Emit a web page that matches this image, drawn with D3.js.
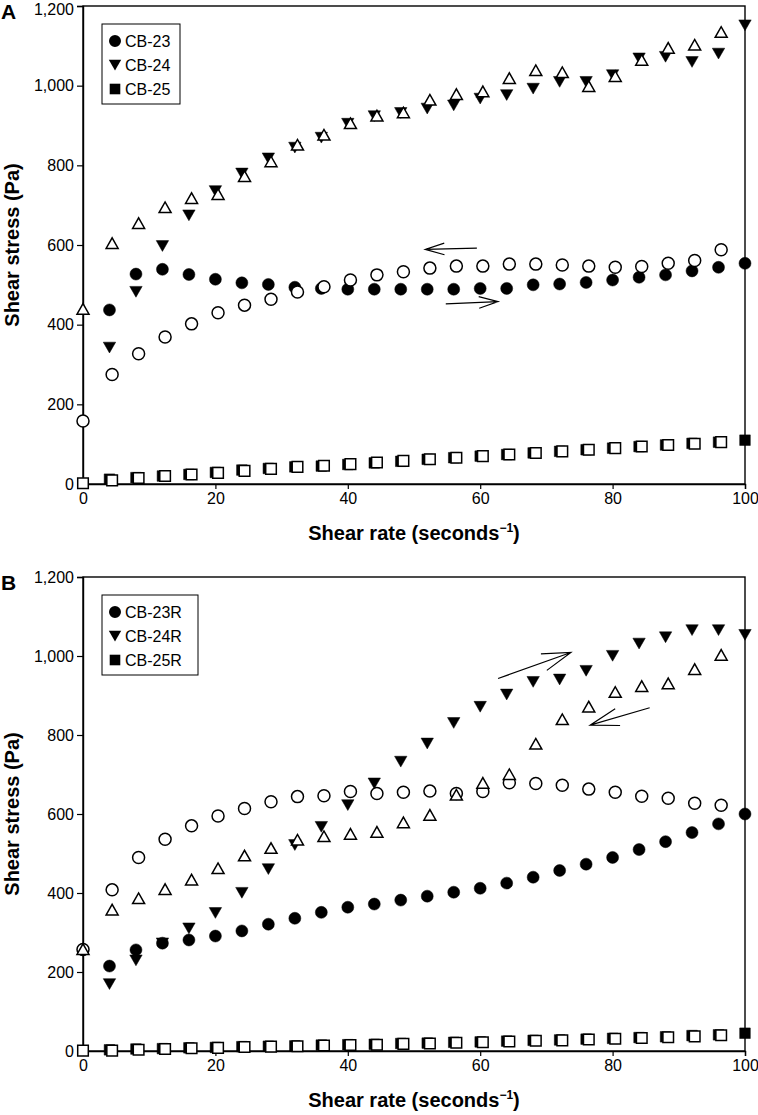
<!DOCTYPE html>
<html>
<head>
<meta charset="utf-8">
<script src="https://cdnjs.cloudflare.com/ajax/libs/d3/7.8.5/d3.min.js"></script>
<style>
  html, body { margin: 0; padding: 0; background: #fff; }
  svg { display: block; }
  text { font-family: "Liberation Sans", Arial, Helvetica, sans-serif; fill: #000; }
</style>
</head>
<body>
<svg id="chart" width="758" height="1115"></svg>
<script>
// ---------- DATA ----------
// x positions of the up-ramp (filled) and down-ramp (open) measurements
const xUp   = [4, 8, 12, 16, 20, 24, 28, 32, 36, 40, 44, 48, 52, 56, 60, 64, 68, 72, 76, 80, 84, 88, 92, 96, 100];
const xDown = [0, 4.4, 8.4, 12.4, 16.4, 20.4, 24.4, 28.4, 32.4, 36.4, 40.4, 44.4, 48.4, 52.4, 56.4, 60.4, 64.4, 68.4, 72.4, 76.4, 80.4, 84.4, 88.4, 92.4, 96.4];

// Panel A
const cb23Up   = [437, 527, 539, 526, 514, 505, 501, 494, 491, 489, 489, 489, 489, 489, 491, 491, 500, 502, 506, 512, 519, 525, 535, 544, 554];
const cb23Down = [158, 275, 327, 369, 402, 430, 449, 464, 482, 495, 512, 525, 533, 542, 547, 547, 552, 552, 550, 547, 544, 546, 554, 561, 588];
const cb24Up   = [343, 483, 598, 675, 736, 780, 818, 845, 870, 905, 924, 932, 943, 951, 968, 977, 993, 1010, 1010, 1027, 1069, 1073, 1060, 1081, 1152];
const cb24Down = [439, 604, 654, 694, 717, 727, 772, 809, 851, 876, 905, 924, 932, 964, 978, 985, 1018, 1038, 1033, 998, 1023, 1064, 1094, 1102, 1134];
const cb25Up   = [12, 16, 20, 24, 29, 35, 39, 43, 45, 49, 53, 57, 62, 66, 70, 74, 78, 82, 86, 90, 94, 98, 102, 105, 110];
const cb25Down = [2, 9, 15, 20, 24, 28, 33, 38, 43, 46, 50, 54, 58, 62, 66, 70, 74, 78, 82, 86, 90, 94, 98, 101, 105];

// Panel B
const cb23RUp   = [215, 256, 273, 281, 291, 304, 321, 336, 351, 364, 372, 382, 392, 402, 412, 425, 440, 457, 473, 490, 510, 530, 553, 575, 600];
const cb23RDown = [257, 408, 490, 536, 570, 595, 614, 631, 644, 646, 657, 652, 655, 658, 652, 657, 679, 677, 673, 663, 655, 645, 640, 627, 622];
const cb24RUp   = [170, 230, 273, 311, 350, 401, 461, 522, 568, 623, 678, 733, 779, 831, 872, 903, 935, 941, 963, 1001, 1032, 1048, 1066, 1066, 1054];
const cb24RDown = [257, 357, 386, 409, 433, 462, 494, 513, 534, 543, 549, 554, 578, 597, 648, 678, 700, 777, 839, 871, 908, 923, 930, 966, 1002];
const cb25RUp   = [3, 5, 6, 8, 9, 11, 12, 13, 15, 16, 17, 19, 20, 22, 23, 25, 27, 28, 30, 32, 34, 36, 39, 41, 45];
const cb25RDown = [1, 1, 3, 5, 7, 8, 10, 11, 12, 14, 15, 16, 18, 19, 21, 22, 24, 26, 27, 29, 31, 33, 35, 37, 40];

// Axis ticks
const xTicks = [0, 20, 40, 60, 80, 100];
const yTicks = [0, 200, 400, 600, 800, 1000, 1200];

// Legend labels
const legendA = ["CB-23", "CB-24", "CB-25"];
const legendB = ["CB-23R", "CB-24R", "CB-25R"];

// Arrow annotations in data units [x1, y1, x2 (tip), y2 (tip)]
const arrowsA = [[59.5, 592, 51.7, 589], [54.8, 452, 62.7, 458]];
const arrowsB = [[62.7, 943, 73.7, 1009], [85.6, 869, 76.6, 825]];

// ---------- DRAW ----------
const svg = d3.select("#chart");
const shapes = ["circle", "down", "square"];

function symbolPath(kind) {
  if (kind === "circle") return d3.symbol(d3.symbolCircle, 113)();
  if (kind === "square") return "M-5.3,-5.3H5.3V5.3H-5.3Z";
  if (kind === "down") return "M-6.2,-5.2L6.2,-5.2L0,5.6Z";
  if (kind === "up") return "M-6,5L6,5L0,-5.6Z";
}

function drawPanel(cfg) {
  const x = d3.scaleLinear().domain([0, 100]).range([83, 745]);
  const y = d3.scaleLinear().domain([0, 1200]).range([cfg.bottom, cfg.top]);
  const g = svg.append("g");

  // frame
  g.append("rect")
    .attr("x", x(0)).attr("y", y(1200))
    .attr("width", x(100) - x(0)).attr("height", y(0) - y(1200))
    .attr("fill", "none").attr("stroke", "#000").attr("stroke-width", 1.4);

  // axes
  const yAxis = d3.axisLeft(y).tickValues(yTicks).tickSize(6).tickPadding(3)
    .tickFormat(d3.format(","));
  const xAxis = d3.axisBottom(x).tickValues(xTicks).tickSize(5).tickPadding(4)
    .tickFormat(d3.format("d"));
  const ya = g.append("g").attr("transform", `translate(${x(0)},0)`).call(yAxis);
  const xa = g.append("g").attr("transform", `translate(0,${y(0)})`).call(xAxis);
  [ya, xa].forEach(a => {
    a.select(".domain").attr("stroke", "#000").attr("stroke-width", 1.4);
    a.selectAll(".tick line").attr("stroke", "#000").attr("stroke-width", 1.2);
    a.selectAll(".tick text").attr("font-size", 16)
      .attr("font-family", '"Liberation Sans", Arial, sans-serif').attr("fill", "#000");
  });
  // keep the top label inside the page
  ya.selectAll(".tick text").filter(d => d === 1200 && y(d) < 10).attr("dy", "0.5em");

  // titles
  const xt = g.append("text")
    .attr("x", (x(0) + x(100)) / 2).attr("y", cfg.bottom + 56)
    .attr("text-anchor", "middle").attr("font-size", 20).attr("font-weight", "bold");
  xt.append("tspan").text("Shear rate (seconds");
  xt.append("tspan").attr("font-size", 12).attr("dy", -8).text("\u22121");
  xt.append("tspan").attr("dy", 8).text(")");

  g.append("text")
    .attr("transform", `translate(19,${(cfg.top + cfg.bottom) / 2}) rotate(-90)`)
    .attr("text-anchor", "middle").attr("font-size", 20).attr("font-weight", "bold")
    .text("Shear stress (Pa)");

  g.append("text").attr("x", 1).attr("y", cfg.top + 13)
    .attr("font-size", 21).attr("font-weight", "bold").text(cfg.letter);

  // legend
  const lg = g.append("g");
  lg.append("rect")
    .attr("x", 102).attr("y", cfg.top + 18)
    .attr("width", cfg.legendW).attr("height", 80)
    .attr("fill", "#fff").attr("stroke", "#000").attr("stroke-width", 1);
  cfg.legend.forEach((name, i) => {
    const cy = cfg.top + 35 + i * 24;
    lg.append("path").attr("d", symbolPath(shapes[i]))
      .attr("transform", `translate(115,${cy})`).attr("fill", "#000");
    lg.append("text").attr("x", 125).attr("y", cy).attr("dy", "0.36em")
      .attr("font-size", 16).text(name);
  });

  // series: filled (up) first, then open (down)
  const drawSeries = (xs, ys, kind, filled) => {
    g.append("g").selectAll("path").data(ys).join("path")
      .attr("d", symbolPath(kind))
      .attr("transform", (d, i) => `translate(${x(xs[i])},${y(d)})`)
      .attr("fill", filled ? "#000" : "#fff")
      .attr("stroke", "#000").attr("stroke-width", filled ? 0.5 : 1.5);
  };
  cfg.series.forEach(s => drawSeries(xUp, s.up, s.kind, true));
  cfg.series.forEach(s => drawSeries(xDown, s.down, s.kind === "down" ? "up" : s.kind, false));

  // arrows
  cfg.arrows.forEach(a => {
    const x1 = x(a[0]), y1 = y(a[1]), x2 = x(a[2]), y2 = y(a[3]);
    const ang = Math.atan2(y1 - y2, x1 - x2);
    const L = cfg.headLen, spread = 17 * Math.PI / 180;
    const p = d3.path();
    p.moveTo(x1, y1); p.lineTo(x2, y2);
    p.moveTo(x2 + L * Math.cos(ang + spread), y2 + L * Math.sin(ang + spread));
    p.lineTo(x2, y2);
    p.lineTo(x2 + L * Math.cos(ang - spread), y2 + L * Math.sin(ang - spread));
    g.append("path").attr("d", p.toString()).attr("fill", "none")
      .attr("stroke", "#000").attr("stroke-width", 1.2);
  });
}

drawPanel({
  top: 6, bottom: 484, letter: "A", legend: legendA, legendW: 78, headLen: 20, arrows: arrowsA,
  series: [
    { kind: "circle", up: cb23Up, down: cb23Down },
    { kind: "down", up: cb24Up, down: cb24Down },
    { kind: "square", up: cb25Up, down: cb25Down }
  ]
});
drawPanel({
  top: 577, bottom: 1051, letter: "B", legend: legendB, legendW: 96, headLen: 30, arrows: arrowsB,
  series: [
    { kind: "circle", up: cb23RUp, down: cb23RDown },
    { kind: "down", up: cb24RUp, down: cb24RDown },
    { kind: "square", up: cb25RUp, down: cb25RDown }
  ]
});
</script>
</body>
</html>
